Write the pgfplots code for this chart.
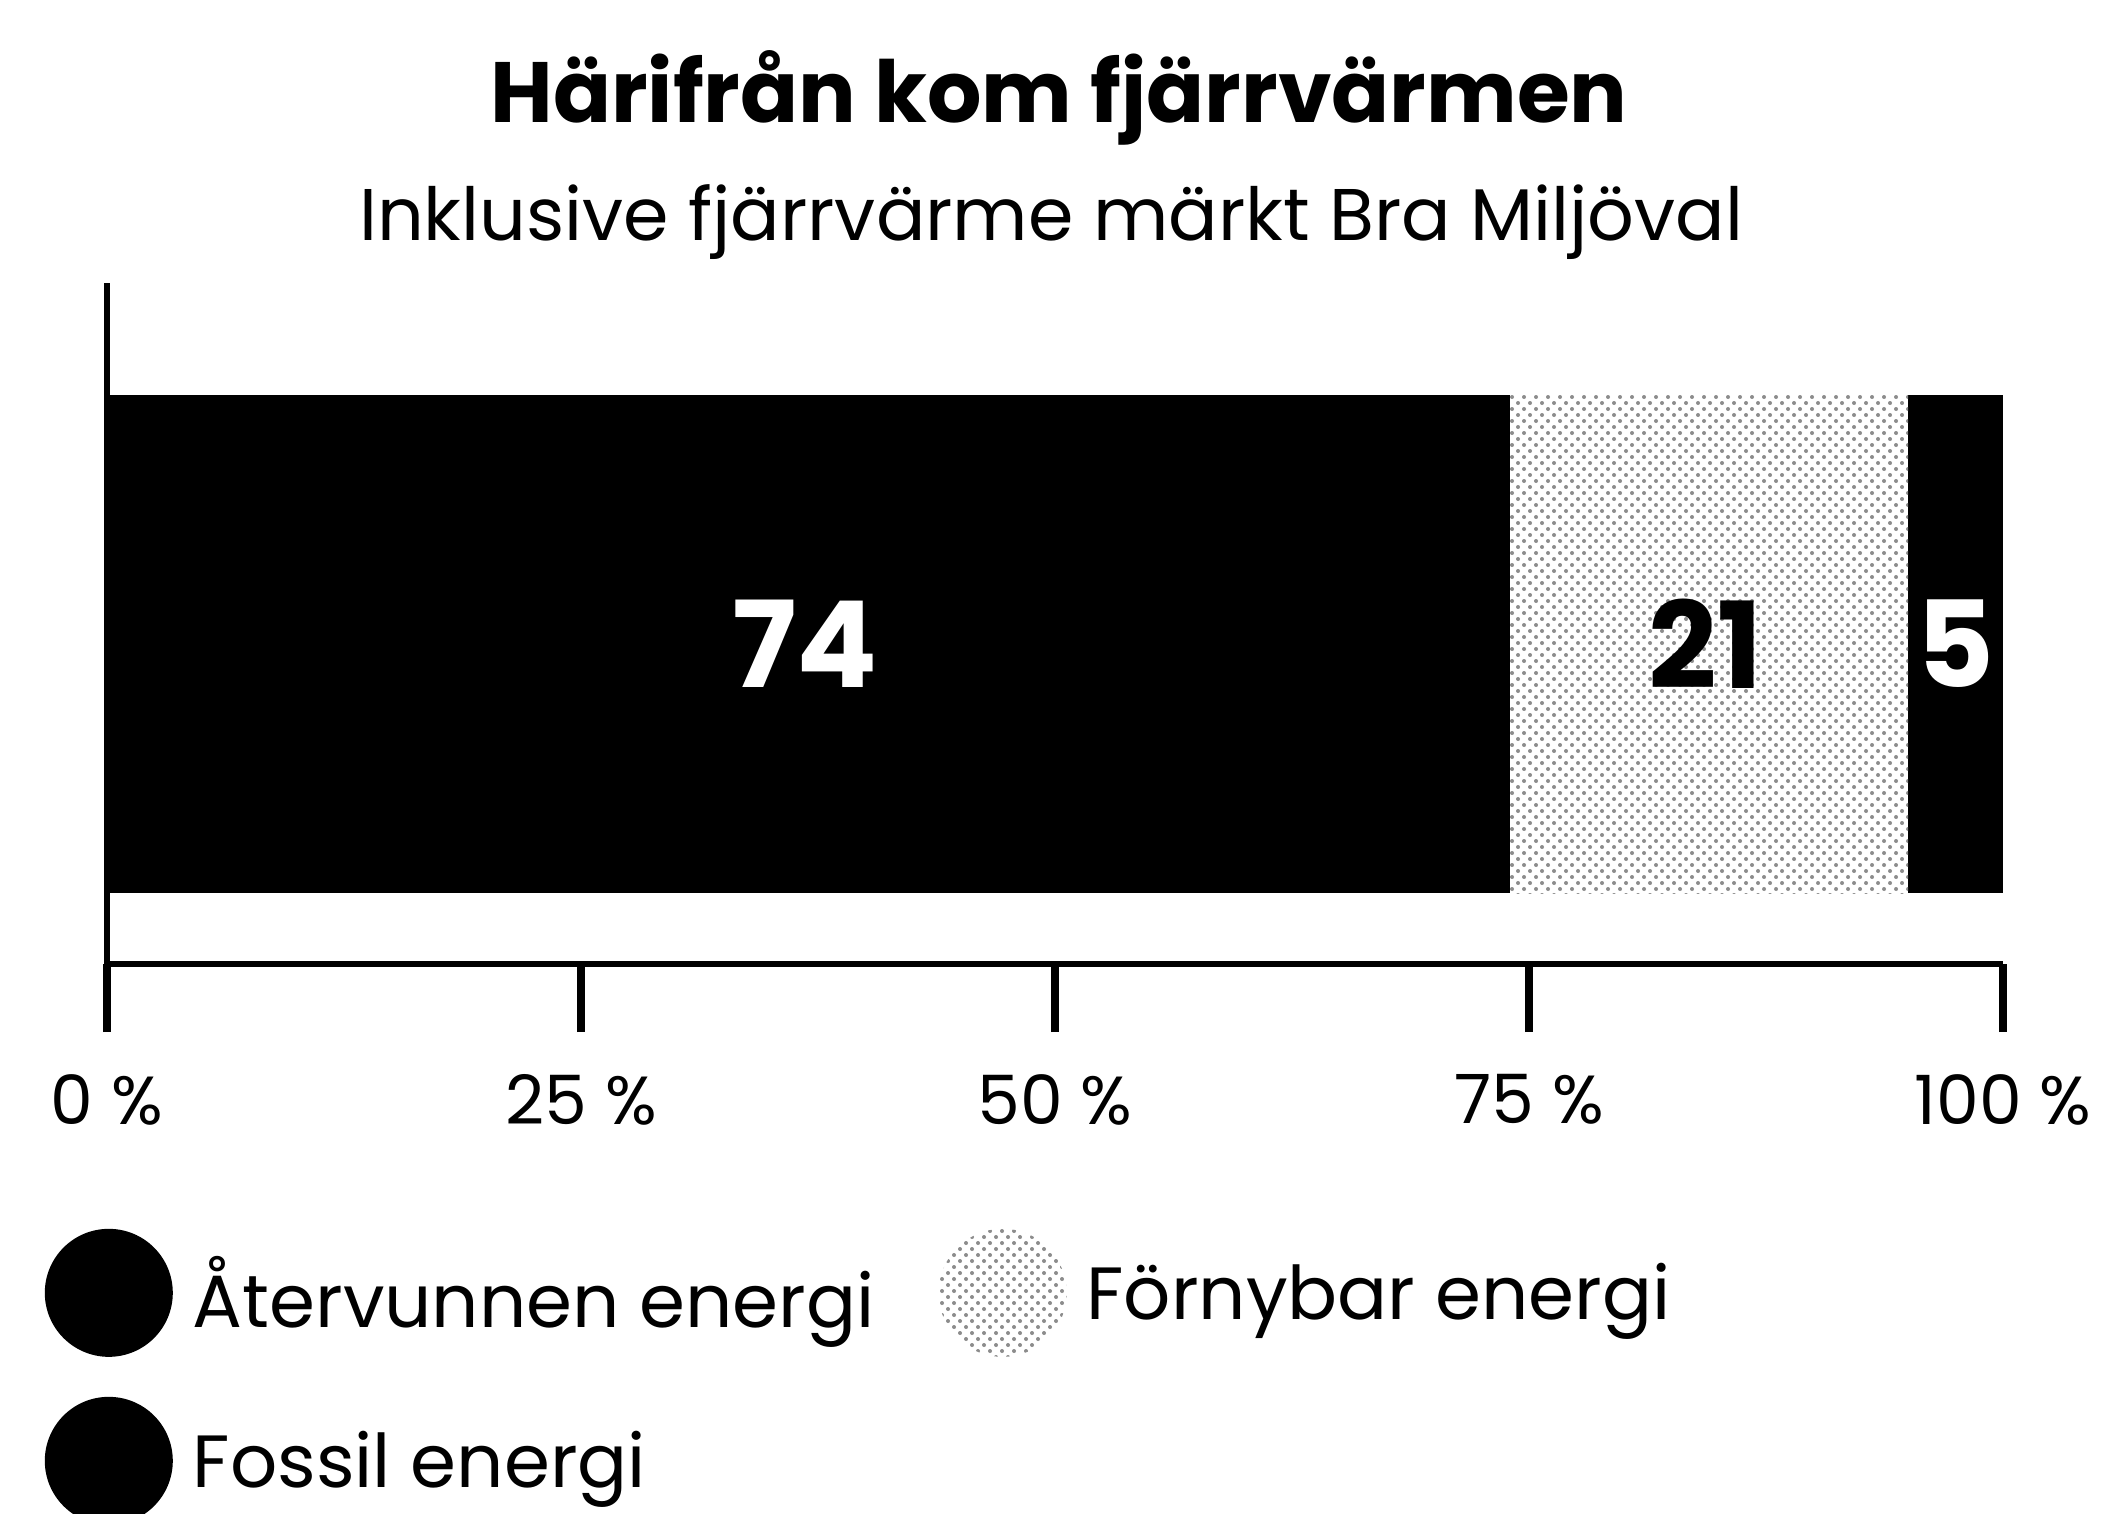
\documentclass[border=0pt]{standalone}
\usepackage{fontspec}
\setmainfont{Poppins}
\usepackage{pgfplots}
\pgfplotsset{compat=1.18}
\usetikzlibrary{patterns}
\begin{document}
\begin{tikzpicture}
\path[use as bounding box] (-26.75pt,-137.25pt) rectangle (502pt,241pt);
\begin{axis}[
  at={(0,0)}, anchor=south west,
  width=474pt, height=170.25pt, scale only axis,
  xbar stacked, bar width=4.98,
  xmin=0, xmax=100, ymin=0, ymax=6.81,
  enlargelimits=false,
  axis x line=bottom, axis y line=left,
  axis line style={line width=1.4pt, -},
  ytick=\empty,
  xtick={0,25,50,75,100},
  xticklabels={0 \%,25 \%,50 \%,75 \%,100 \%},
  /pgf/number format/assume math mode=true,
  tick align=outside, major tick length=17pt,
  x tick style={line width=2pt, black},
  xticklabel style={font=\fontsize{17}{17}\selectfont, yshift=-7pt},
  legend columns=2,
  legend cell align=left,
  legend style={at={(0,0)}, anchor=north west, xshift=-15.75pt, yshift=-66pt,
    draw=none, inner sep=0pt, font=\fontsize{18.5}{18.5}\selectfont,
    /tikz/row sep=10pt,
    /tikz/every even column/.append style={column sep=14pt}},
  circ/.style={legend image code/.code={\path[##1, draw=none] (16pt,0.5pt) circle (16pt);}},
  after end axis/.code={
    \node[text=white, font=\bfseries\fontsize{30}{30}\selectfont] at (axis cs:36.8,3.2) {74};
    \node[text=black, font=\bfseries\fontsize{30}{30}\selectfont] at (axis cs:84.3,3.2) {21};
    \node[text=white, font=\bfseries\fontsize{30}{30}\selectfont] at (axis cs:97.5,3.2) {5};
  },
]
\addplot[fill=black, draw=none, circ] coordinates {(74,3.2)};
\addlegendentry{\hspace{3pt}Återvunnen energi}
\addplot[pattern=crosshatch dots, pattern color=black!45, draw=none, circ] coordinates {(21,3.2)};
\addlegendentry{\hspace{3pt}Förnybar energi}
\addplot[fill=black, draw=none, circ] coordinates {(5,3.2)};
\addlegendentry{\hspace{3pt}Fossil energi}
\end{axis}
\node[font=\bfseries\fontsize{21.4}{21.4}\selectfont] at (238pt,216.5pt) {Härifrån kom fjärrvärmen};
\node[font=\fontsize{18.3}{18.3}\selectfont] at (236pt,185.5pt) {Inklusive fjärrvärme märkt Bra Miljöval};
\end{tikzpicture}
\end{document}
